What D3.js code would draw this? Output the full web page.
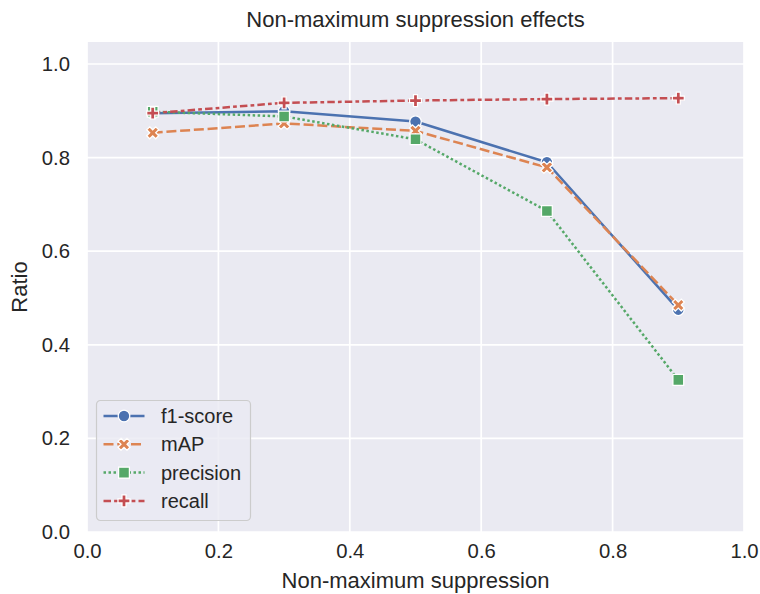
<!DOCTYPE html>
<html>
<head>
<meta charset="utf-8">
<script src="https://cdn.jsdelivr.net/npm/d3@7"></script>
<style>
  html, body { margin: 0; padding: 0; background: #ffffff; }
  svg text { font-family: "Liberation Sans", Arial, sans-serif; fill: #262626; }
</style>
</head>
<body>
<svg id="chart" width="760" height="594"></svg>
<script>
// NMS threshold values on the x axis
const thresholds = [0.1, 0.3, 0.5, 0.7, 0.9];

// Metric values per threshold
const f1Score   = [0.895, 0.899, 0.877, 0.790, 0.475];
const mAP       = [0.853, 0.873, 0.857, 0.779, 0.485];
const precision = [0.898, 0.888, 0.839, 0.686, 0.325];
const recall    = [0.895, 0.917, 0.922, 0.925, 0.927];

const seriesNames = ["f1-score", "mAP", "precision", "recall"];
const seriesValues = [f1Score, mAP, precision, recall];

const xTicks = [0.0, 0.2, 0.4, 0.6, 0.8, 1.0];
const yTicks = [0.0, 0.2, 0.4, 0.6, 0.8, 1.0];

const colors = ["#4C72B0", "#DD8452", "#55A868", "#C44E52"];
const markerTypes = ["circle", "x", "square", "plus"];
const dashes = ["", "10,3.75", "2.5,2.5", "7.5,3.125,3.75,3.125"];

const width = 760, height = 594;
const margin = { left: 87, right: 16, top: 42, bottom: 62 };
const innerW = width - margin.left - margin.right;
const innerH = height - margin.top - margin.bottom;

const svg = d3.select("#chart");

const x = d3.scaleLinear().domain([0, 1]).range([margin.left, margin.left + innerW]);
const y = d3.scaleLinear().domain([0, 1.047]).range([margin.top + innerH, margin.top]);

// Plot background
svg.append("rect")
  .attr("x", margin.left).attr("y", margin.top)
  .attr("width", innerW).attr("height", innerH)
  .attr("fill", "#EAEAF2");

// Grid lines
const grid = svg.append("g");
grid.selectAll(".vgrid").data(xTicks).enter().append("line")
  .attr("x1", d => x(d)).attr("x2", d => x(d))
  .attr("y1", margin.top).attr("y2", margin.top + innerH)
  .attr("stroke", "#ffffff").attr("stroke-width", 1.7);
grid.selectAll(".hgrid").data(yTicks).enter().append("line")
  .attr("x1", margin.left).attr("x2", margin.left + innerW)
  .attr("y1", d => y(d)).attr("y2", d => y(d))
  .attr("stroke", "#ffffff").attr("stroke-width", 1.7);

// Axes (labels only, no ticks or domain lines)
const xAxis = svg.append("g")
  .attr("transform", `translate(0,${margin.top + innerH})`)
  .call(d3.axisBottom(x).tickValues(xTicks).tickFormat(d3.format(".1f")).tickSize(0).tickPadding(12));
const yAxis = svg.append("g")
  .attr("transform", `translate(${margin.left},0)`)
  .call(d3.axisLeft(y).tickValues(yTicks).tickFormat(d3.format(".1f")).tickSize(0).tickPadding(17));
[xAxis, yAxis].forEach(a => {
  a.select(".domain").remove();
  a.selectAll("text").attr("font-size", 20.3).attr("fill", "#262626")
    .style("font-family", "'Liberation Sans', Arial, sans-serif");
});

// Marker path generators
function markerPath(type) {
  if (type === "circle") {
    const r = 5.8;
    return `M${r},0A${r},${r} 0 1,1 ${-r},0A${r},${r} 0 1,1 ${r},0Z`;
  }
  if (type === "square") {
    const h = 5.4;
    return `M${-h},${-h}L${h},${-h}L${h},${h}L${-h},${h}Z`;
  }
  if (type === "x") {
    const s = 12;
    const pts = [[0.25,0],[0.5,0.25],[0.75,0],[1,0.25],[0.75,0.5],[1,0.75],[0.75,1],[0.5,0.75],[0.25,1],[0,0.75],[0.25,0.5],[0,0.25]];
    return "M" + pts.map(p => [(p[0]-0.5)*s, (p[1]-0.5)*s].join(",")).join("L") + "Z";
  }
  // filled plus
  const s = 12, a = 1/6, b = 0.5;
  const pts = [[-b,-a],[-a,-a],[-a,-b],[a,-b],[a,-a],[b,-a],[b,a],[a,a],[a,b],[-a,b],[-a,a],[-b,a]];
  return "M" + pts.map(p => [p[0]*s, p[1]*s].join(",")).join("L") + "Z";
}

const line = d3.line().x(d => x(d[0])).y(d => y(d[1]));

// Series: each line drawn with its markers, in order
seriesValues.forEach((vals, i) => {
  const g = svg.append("g");
  const pts = thresholds.map((t, j) => [t, vals[j]]);
  g.append("path")
    .datum(pts)
    .attr("d", line)
    .attr("fill", "none")
    .attr("stroke", colors[i])
    .attr("stroke-width", 2.5)
    .attr("stroke-dasharray", dashes[i] || null)
    .attr("stroke-linejoin", "round");
  g.selectAll("path.m").data(pts).enter().append("path")
    .attr("class", "m")
    .attr("transform", d => `translate(${x(d[0])},${y(d[1])})`)
    .attr("d", markerPath(markerTypes[i]))
    .attr("fill", colors[i])
    .attr("stroke", "#ffffff")
    .attr("stroke-width", 1.25);
});

// Legend
const lg = svg.append("g").attr("transform", "translate(96.5,400.5)");
lg.append("rect")
  .attr("width", 154).attr("height", 120)
  .attr("rx", 4).attr("ry", 4)
  .attr("fill", "#EAEAF2").attr("fill-opacity", 0.8)
  .attr("stroke", "#CCCCCC").attr("stroke-width", 1.2);
seriesNames.forEach((name, i) => {
  const cy = 15.5 + i * 28.3;
  const item = lg.append("g").attr("transform", `translate(0,${cy})`);
  item.append("line")
    .attr("x1", 7).attr("x2", 48)
    .attr("stroke", colors[i]).attr("stroke-width", 2.5)
    .attr("stroke-dasharray", dashes[i] || null);
  item.append("path")
    .attr("transform", "translate(27.5,0)")
    .attr("d", markerPath(markerTypes[i]))
    .attr("fill", colors[i])
    .attr("stroke", "#ffffff").attr("stroke-width", 1.25);
  item.append("text")
    .attr("x", 64.5).attr("y", 0).attr("dy", "0.35em")
    .attr("font-size", 20)
    .text(name);
});

// Titles
svg.append("text")
  .attr("x", margin.left + innerW / 2).attr("y", 27)
  .attr("text-anchor", "middle").attr("font-size", 22)
  .text("Non-maximum suppression effects");
svg.append("text")
  .attr("x", margin.left + innerW / 2).attr("y", 588)
  .attr("text-anchor", "middle").attr("font-size", 22)
  .text("Non-maximum suppression");
svg.append("text")
  .attr("transform", `translate(27,${margin.top + innerH / 2}) rotate(-90)`)
  .attr("text-anchor", "middle").attr("font-size", 22)
  .text("Ratio");
</script>
</body>
</html>
